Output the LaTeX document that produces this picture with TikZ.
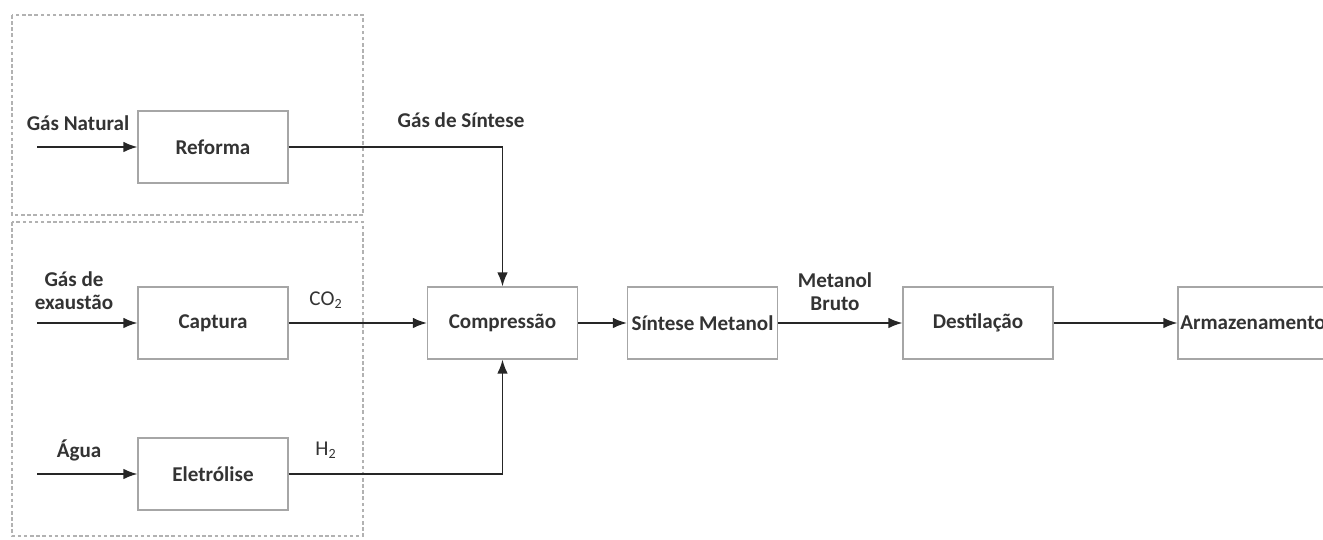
\documentclass[tikz,border=0pt]{standalone}
\usepackage{fontspec}
\setmainfont{Carlito}
\usetikzlibrary{arrows.meta}

\tikzset{
  etapa/.style={draw=black!35, line width=0.6pt, minimum width=3cm, minimum height=1.44cm,
    inner sep=0pt, font=\fontsize{12}{13}\selectfont\bfseries, text=black!80},
  rotulo/.style={font=\fontsize{12}{13}\selectfont\bfseries, text=black!80, align=center, inner sep=0pt},
  formula/.style={font=\fontsize{12}{13}\selectfont, text=black!80, inner sep=0pt},
  fluxo/.style={line width=1pt, black!85, -{Latex[length=8pt,width=6pt]}},
  grupo/.style={draw=black!30, line width=0.6pt, dash pattern=on 2pt off 1.5pt},
}

\begin{document}
\begin{tikzpicture}[x=0.02cm, y=-0.02cm]
\useasboundingbox (0,0) rectangle (1323,540);

% grupos de entrada
\draw[grupo] (12,15) rectangle (363,215);
\draw[grupo] (12,222) rectangle (363,536);

% etapas do processo
\node[etapa] (reforma) at (213,147) {Reforma};
\node[etapa] (captura) at (213,323) {Captura};
\node[etapa] (eletrolise) at (213,474) {Eletrólise};
\node[etapa] (compressao) at (502.5,323) {Compressão};
\node[etapa] (sintese) at (702.5,323) {Síntese Metanol};
\node[etapa] (destilacao) at (978,323) {Destilação};
\node[etapa] (armazenamento) at (1253,323) {Armazenamento};

% correntes de entrada
\coordinate (in gn) at (37,147);
\coordinate (in ge) at (37,323);
\coordinate (in ag) at (37,474);

\node[rotulo] (gas natural) at (78,123) {Gás Natural};
\node[rotulo] (gas exaustao) at (74,291) {Gás de\\exaustão};
\node[rotulo] (agua) at (79,450) {Água};
\node[formula] (co2) at (326,300) {CO\textsubscript{2}};
\node[formula] (h2) at (326,450) {H\textsubscript{2}};
\node[rotulo] (gas sintese) at (461,120) {Gás de Síntese};
\node[rotulo] (metanol bruto) at (835,292) {Metanol\\Bruto};

\draw[fluxo] (in gn) -- (reforma);
\draw[fluxo] (in ge) -- (captura);
\draw[fluxo] (in ag) -- (eletrolise);
\draw[fluxo] (reforma) -| (compressao);
\draw[fluxo] (captura) -- (compressao);
\draw[fluxo] (eletrolise) -| (compressao);
\draw[fluxo] (compressao) -- (sintese);
\draw[fluxo] (sintese) -- (destilacao);
\draw[fluxo] (destilacao) -- (armazenamento);
\end{tikzpicture}
\end{document}
